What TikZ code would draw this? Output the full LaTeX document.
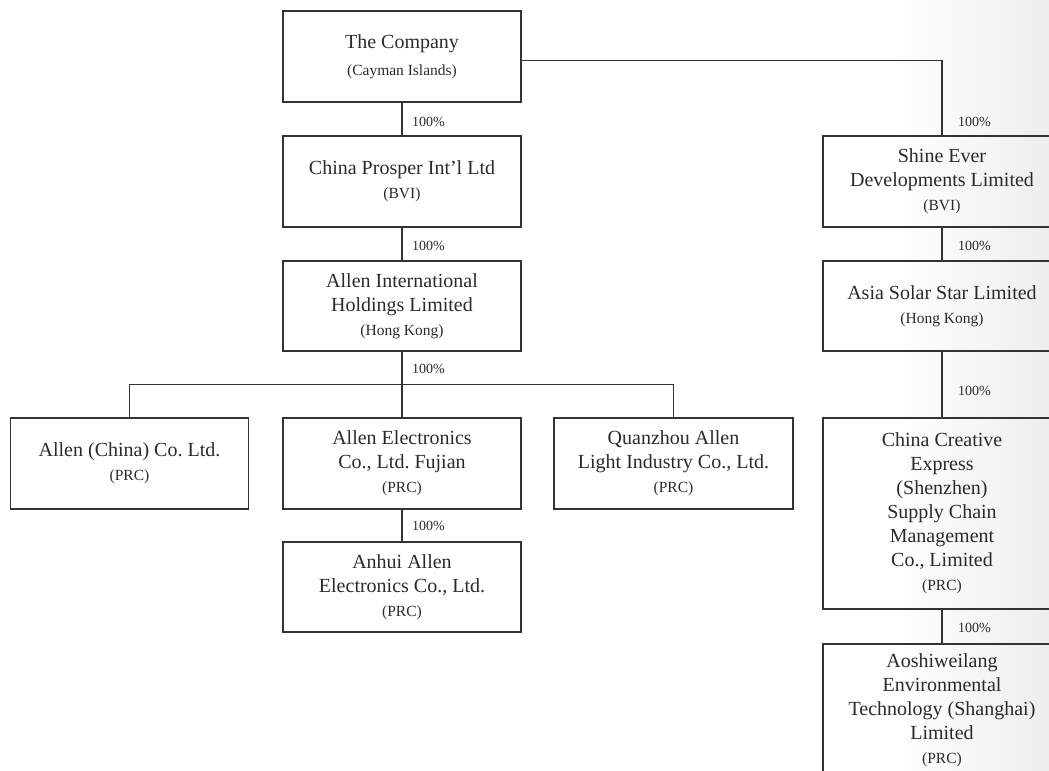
\documentclass[tikz,border=0pt]{standalone}
\usepackage{fontspec}
\setmainfont{Liberation Serif}
\frenchspacing
\definecolor{ink}{HTML}{2B2A29}
\definecolor{rule}{HTML}{333333}
\definecolor{marble}{HTML}{EFEEEC}
\tikzset{
  box/.style={draw=rule, line width=1.3bp, rectangle, inner sep=0pt,
    minimum width=238bp, minimum height=91bp, align=center, text=ink,
    font=\fontsize{20bp}{24bp}\selectfont},
  pct/.style={anchor=west, inner sep=0pt, text=ink,
    font=\fontsize{14bp}{16bp}\selectfont},
  link/.style={draw=rule, line width=1.2bp},
}
\newcommand{\loc}[1]{{\fontsize{15.5bp}{24bp}\selectfont #1}}
\begin{document}
\begin{tikzpicture}[x=1bp,y=-1bp]
\useasboundingbox (0,0) rectangle (1049,771);
\clip (0,0) rectangle (1049,771);
\shade[left color=white, right color=marble] (890,0) rectangle (1049,771);

% left column
\node[box] (company) at (402,56.5) {The Company\\[3bp]\loc{(Cayman Islands)}};
\node[box] (prosper) at (402,181.5) {China Prosper Int’l Ltd\\\loc{(BVI)}};
\node[box, minimum height=90bp] (intl) at (402,306) {Allen International\\Holdings Limited\\\loc{(Hong Kong)}};
\node[box, minimum width=237.5bp] (allenchina) at (129.5,463.5) {Allen (China) Co. Ltd.\\\loc{(PRC)}};
\node[box] (fujian) at (402,463.5) {Allen Electronics\\Co., Ltd. Fujian\\\loc{(PRC)}};
\node[box, minimum width=239bp] (quanzhou) at (673.5,463.5) {Quanzhou Allen\\Light Industry Co., Ltd.\\\loc{(PRC)}};
\node[box, minimum height=90bp] (anhui) at (402,587) {Anhui Allen\\Electronics Co., Ltd.\\\loc{(PRC)}};

% right column
\node[box] (shine) at (942,181.5) {Shine Ever\\Developments Limited\\\loc{(BVI)}};
\node[box, minimum height=90bp] (asia) at (942,306) {Asia Solar Star Limited\\\loc{(Hong Kong)}};
\node[box, minimum height=191bp] (creative) at (942,513.5) {China Creative\\Express\\(Shenzhen)\\Supply Chain\\Management\\Co., Limited\\\loc{(PRC)}};
\node[box, minimum height=132bp] (aoshi) at (942,710) {Aoshiweilang\\Environmental\\Technology (Shanghai)\\Limited\\\loc{(PRC)}};

% connectors
\coordinate (bus) at (402,384.5);
\draw[link] (company) -- (prosper);
\draw[link] (prosper) -- (intl);
\draw[link] (intl.south) -- (fujian.north);
\draw[link] (allenchina.north) |- (bus) -| (quanzhou.north);
\draw[link] (fujian) -- (anhui);
\draw[link] ([yshift=-4bp]company.east) -| (shine.north);
\draw[link] (shine) -- (asia);
\draw[link] (asia) -- (creative);
\draw[link] (creative) -- (aoshi);

% percentages
\node[pct] (p1) at (412,122) {100\%};
\node[pct] (p2) at (412,246) {100\%};
\node[pct] (p3) at (412,369) {100\%};
\node[pct] (p4) at (412,526) {100\%};
\node[pct] (s1) at (958,122) {100\%};
\node[pct] (s2) at (958,246) {100\%};
\node[pct] (s3) at (958,391) {100\%};
\node[pct] (s4) at (958,628) {100\%};
\end{tikzpicture}
\end{document}
